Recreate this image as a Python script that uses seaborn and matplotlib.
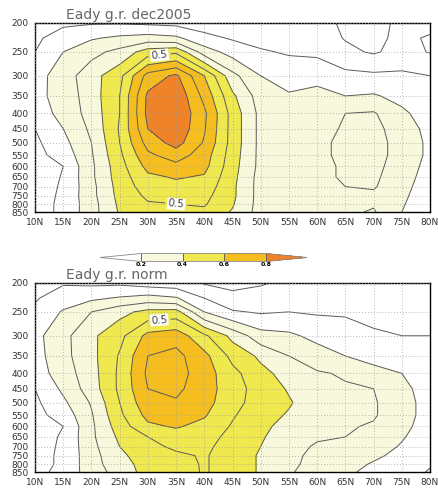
import numpy as np
import matplotlib
matplotlib.use("Agg")
import matplotlib.pyplot as plt
import seaborn as sns
from matplotlib.colors import ListedColormap
from matplotlib.ticker import FixedLocator, FixedFormatter, NullLocator

sns.set_theme(style="white")
plt.rcParams['font.family'] = ['DejaVu Sans']

# grid of the field: latitude (deg N) and pressure (hPa)
lats = [10, 15, 20, 25, 30, 35, 40, 45, 50, 55, 60, 65, 70, 75, 80]
plevs = [200, 225, 250, 300, 350, 400, 450, 500, 550, 600, 650, 700, 750, 800, 850]

# Eady growth rate, one list per latitude (top to bottom in pressure)
dec2005_cols = [
    [0.05, 0.08, 0.10, 0.16, 0.17, 0.15, 0.10, 0.08, 0.07, 0.06, 0.06, 0.06, 0.06, 0.06, 0.06],   # 10N
    [0.08, 0.15, 0.20, 0.25, 0.24, 0.23, 0.20, 0.17, 0.14, 0.10, 0.105, 0.11, 0.115, 0.12, 0.12], # 15N
    [0.09, 0.19, 0.27, 0.36, 0.35, 0.34, 0.32, 0.30, 0.29, 0.28, 0.28, 0.27, 0.27, 0.26, 0.26],   # 20N
    [0.09, 0.22, 0.33, 0.47, 0.50, 0.50, 0.51, 0.50, 0.48, 0.46, 0.45, 0.44, 0.43, 0.42, 0.41],   # 25N
    [0.08, 0.24, 0.45, 0.74, 0.82, 0.83, 0.80, 0.74, 0.68, 0.63, 0.58, 0.55, 0.52, 0.49, 0.46],   # 30N
    [0.07, 0.22, 0.48, 0.82, 0.88, 0.89, 0.88, 0.84, 0.75, 0.67, 0.61, 0.57, 0.54, 0.50, 0.47],   # 35N
    [0.05, 0.13, 0.25, 0.60, 0.67, 0.72, 0.71, 0.69, 0.65, 0.63, 0.59, 0.56, 0.53, 0.51, 0.48],   # 40N
    [0.04, 0.09, 0.16, 0.33, 0.42, 0.46, 0.46, 0.46, 0.45, 0.44, 0.43, 0.42, 0.42, 0.41, 0.39],   # 45N
    [0.03, 0.07, 0.11, 0.20, 0.25, 0.27, 0.27, 0.27, 0.27, 0.27, 0.26, 0.26, 0.26, 0.26, 0.26],   # 50N
    [0.03, 0.05, 0.09, 0.16, 0.21, 0.23, 0.24, 0.25, 0.25, 0.25, 0.25, 0.25, 0.25, 0.25, 0.25],   # 55N
    [0.02, 0.04, 0.08, 0.17, 0.23, 0.26, 0.27, 0.28, 0.28, 0.28, 0.28, 0.27, 0.27, 0.26, 0.26],   # 60N
    [-0.01, -0.005, 0.02, 0.13, 0.20, 0.30, 0.31, 0.32, 0.32, 0.31, 0.31, 0.30, 0.27, 0.27, 0.28], # 65N
    [-0.03, -0.02, -0.01, 0.12, 0.21, 0.31, 0.33, 0.34, 0.34, 0.33, 0.32, 0.31, 0.28, 0.29, 0.31], # 70N
    [0.02, 0.02, 0.03, 0.12, 0.17, 0.22, 0.25, 0.26, 0.26, 0.25, 0.24, 0.23, 0.22, 0.21, 0.20],   # 75N
    [0.03, -0.01, -0.005, 0.10, 0.13, 0.15, 0.17, 0.18, 0.18, 0.17, 0.16, 0.15, 0.14, 0.13, 0.12], # 80N
]

norm_cols = [
    [0.05, 0.09, 0.12, 0.17, 0.16, 0.15, 0.10, 0.08, 0.07, 0.06, 0.06, 0.06, 0.06, 0.06, 0.07],   # 10N
    [0.09, 0.15, 0.21, 0.27, 0.27, 0.25, 0.22, 0.18, 0.14, 0.10, 0.11, 0.115, 0.12, 0.12, 0.13],  # 15N
    [0.08, 0.18, 0.30, 0.38, 0.37, 0.36, 0.35, 0.31, 0.29, 0.28, 0.28, 0.27, 0.26, 0.26, 0.25],   # 20N
    [0.08, 0.21, 0.37, 0.47, 0.51, 0.52, 0.52, 0.50, 0.48, 0.45, 0.42, 0.40, 0.38, 0.36, 0.34],   # 25N
    [0.05, 0.24, 0.43, 0.63, 0.70, 0.72, 0.70, 0.67, 0.63, 0.58, 0.50, 0.47, 0.45, 0.44, 0.44],   # 30N
    [0.04, 0.21, 0.44, 0.66, 0.73, 0.74, 0.72, 0.69, 0.65, 0.61, 0.55, 0.52, 0.48, 0.46, 0.45],   # 35N
    [-0.01, 0.10, 0.20, 0.52, 0.63, 0.65, 0.65, 0.64, 0.61, 0.57, 0.54, 0.52, 0.51, 0.51, 0.51],  # 40N
    [-0.03, 0.03, 0.11, 0.37, 0.47, 0.53, 0.54, 0.53, 0.51, 0.49, 0.47, 0.46, 0.45, 0.45, 0.45],  # 45N
    [-0.01, 0.04, 0.09, 0.24, 0.38, 0.43, 0.46, 0.46, 0.44, 0.42, 0.41, 0.40, 0.39, 0.39, 0.39],  # 50N
    [0.02, 0.06, 0.10, 0.22, 0.30, 0.36, 0.39, 0.41, 0.39, 0.37, 0.35, 0.33, 0.32, 0.32, 0.31],   # 55N
    [0.05, 0.07, 0.09, 0.17, 0.25, 0.31, 0.33, 0.34, 0.33, 0.32, 0.31, 0.29, 0.28, 0.27, 0.26],   # 60N
    [0.06, 0.07, 0.09, 0.14, 0.20, 0.29, 0.31, 0.32, 0.32, 0.31, 0.30, 0.27, 0.25, 0.24, 0.22],   # 65N
    [0.06, 0.07, 0.08, 0.11, 0.16, 0.24, 0.30, 0.31, 0.31, 0.29, 0.27, 0.25, 0.22, 0.19, 0.17],   # 70N
    [0.06, 0.07, 0.08, 0.10, 0.15, 0.20, 0.23, 0.24, 0.24, 0.23, 0.21, 0.19, 0.17, 0.16, 0.15],   # 75N
    [0.06, 0.07, 0.08, 0.10, 0.11, 0.13, 0.15, 0.16, 0.16, 0.15, 0.14, 0.15, 0.17, 0.19, 0.21],   # 80N
]

titles = ["Eady g.r. dec2005", "Eady g.r. norm"]
ytick_vals = [200, 250, 300, 350, 400, 450, 500, 550, 600, 650, 700, 750, 800, 850]
xtick_vals = [10, 15, 20, 25, 30, 35, 40, 45, 50, 55, 60, 65, 70, 75, 80]
xtick_labels = [f"{v}N" for v in xtick_vals]

shade_levels = [0.2, 0.4, 0.6, 0.8]
line_levels = [0.0, 0.1, 0.2, 0.3, 0.4, 0.6, 0.7, 0.8, 0.9]
label_level = [0.5]
# where GrADS put its "0.5" labels (lat, hPa)
label_spots = [[(32, 248), (35, 805)], [(32, 261)]]

cmap = ListedColormap(['#f8f8dc', '#efe84e', '#f5be1e'])
cmap.set_under('white')
cmap.set_over('#f08228')

W, H = 438, 490
fig = plt.figure(figsize=(W / 100, H / 100), dpi=100)

panel_tops = [22.7, 282.7]
panel_h = 189.3
ax_left, ax_w = 35, 395

for i, cols in enumerate([dec2005_cols, norm_cols]):
    field = np.array(cols).T
    top = panel_tops[i]
    ax = fig.add_axes([ax_left / W, 1 - (top + panel_h) / H, ax_w / W, panel_h / H])

    ax.set_yscale('log')
    ax.set_ylim(850, 200)
    ax.set_xlim(10, 80)

    cf = ax.contourf(lats, plevs, field, levels=shade_levels, cmap=cmap, extend='both')
    ax.contour(lats, plevs, field, levels=line_levels, colors='#5a5a5a', linewidths=0.7)
    cs5 = ax.contour(lats, plevs, field, levels=label_level, colors='#5a5a5a', linewidths=0.7)
    lbls = ax.clabel(cs5, fmt='%.1f', fontsize=7.5, inline=True, inline_spacing=3,
                     manual=label_spots[i], colors='#444444')
    for t in lbls:
        t.set_bbox(dict(facecolor='white', edgecolor='none', pad=0.6))

    ax.yaxis.set_major_locator(FixedLocator(ytick_vals))
    ax.yaxis.set_major_formatter(FixedFormatter([str(v) for v in ytick_vals]))
    ax.yaxis.set_minor_locator(NullLocator())
    ax.set_xticks(xtick_vals)
    ax.set_xticklabels(xtick_labels)

    ax.set_axisbelow(False)
    ax.grid(True, color='#a0a0a0', linestyle=(0, (1, 2.5)), linewidth=0.6)
    ax.tick_params(axis='both', direction='out', length=3, width=0.8, color='black',
                   labelsize=6.5, labelcolor='#333333', pad=1.5)
    for sp in ax.spines.values():
        sp.set_color('black')
        sp.set_linewidth(1.0)

    fig.text(66 / W, 1 - (top - 7.6) / H, titles[i], fontsize=10, color='#666666',
             ha='left', va='center')

    if i == 0:
        cax = fig.add_axes([100 / W, 1 - 261.5 / H, 207 / W, 8 / H])
        cb = fig.colorbar(cf, cax=cax, orientation='horizontal', extendfrac=0.33,
                          ticks=shade_levels, drawedges=True)
        cb.outline.set_edgecolor('#888888')
        cb.outline.set_linewidth(0.6)
        cb.dividers.set_color('#555555')
        cb.dividers.set_linewidth(0.6)
        cax.tick_params(length=0, labelsize=4.5, pad=0.3, labelcolor='black')
        cax.set_xticklabels([f"{v:.1f}" for v in shade_levels], fontweight='bold')

fig.savefig('out.png', dpi=100)
